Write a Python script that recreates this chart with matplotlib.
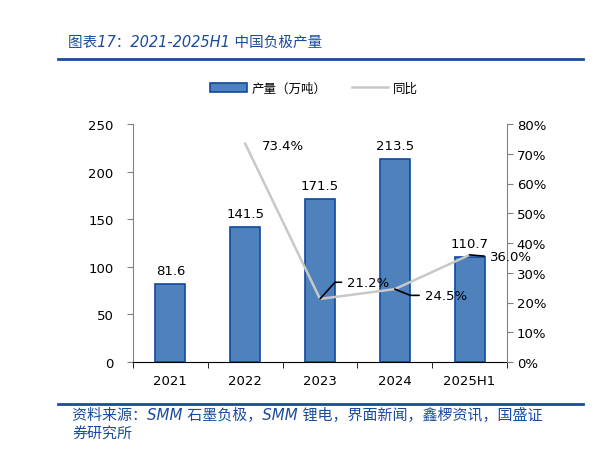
import matplotlib.pyplot as plt
from matplotlib.lines import Line2D
from matplotlib.patches import Patch

plt.rcParams['font.family'] = ['DejaVu Sans', 'Noto Sans CJK SC']

years = ['2021', '2022', '2023', '2024', '2025H1']
output = [81.6, 141.5, 171.5, 213.5, 110.7]
yoy_years = ['2022', '2023', '2024', '2025H1']
yoy = [73.4, 21.2, 24.5, 36.0]

blue = '#1A4C9C'
cjk = ['Noto Sans CJK SC', 'DejaVu Sans']
lat_cjk = ['DejaVu Sans', 'Noto Sans CJK SC']

fig = plt.figure(figsize=(5.97, 4.52), dpi=100)
ax = fig.add_axes([133 / 597, 1 - 363 / 452, 374 / 597, 238 / 452])
ax2 = ax.twinx()

x = list(range(len(years)))
ax.bar(x, output, width=0.4, color='#4F81BD', edgecolor='#1049A0', linewidth=1.2, zorder=2)
for xi, v in zip(x, output):
    ax.annotate(f'{v:.1f}', (xi, v), xytext=(0, 5), textcoords='offset points',
                ha='center', va='bottom', fontsize=9.5)

ax.set_xlim(-0.5, len(years) - 0.5)
ax.set_ylim(0, 250)
ax.set_yticks(range(0, 251, 50))
ax.set_xticks(x)
ax.set_xticklabels(years)
ax.set_xticks([i - 0.5 for i in range(len(years) + 1)], minor=True)
ax.tick_params(axis='x', which='major', length=0, pad=9, labelsize=9.5)
ax.tick_params(axis='x', which='minor', length=4, direction='out', color='black')
ax.tick_params(axis='y', length=4, direction='out', color='#808080', labelsize=9.5, pad=10)
for s in ['top', 'right']:
    ax.spines[s].set_visible(False)
ax.spines['left'].set_color('#808080')
ax.spines['bottom'].set_color('black')
ax.spines['bottom'].set_zorder(5)

xl = [years.index(y) for y in yoy_years]
ax2.plot(xl, yoy, color='#C8C8C8', linewidth=1.8, zorder=3)
ax2.set_ylim(0, 80)
ax2.set_yticks(range(0, 81, 10))
ax2.set_yticklabels([f'{t}%' for t in range(0, 81, 10)])
ax2.tick_params(axis='y', length=4, direction='out', color='#808080', labelsize=9.5, pad=3)
for s in ['top', 'left', 'bottom']:
    ax2.spines[s].set_visible(False)
ax2.spines['right'].set_color('#808080')

# percentage labels with leader lines
offsets = [(12, -1), (19.5, 12), (21.5, -4.5), (14.5, -1.2)]
conns = [None, 'angle,angleA=0,angleB=48,rad=0', 'angle,angleA=0,angleB=-22,rad=0', 'arc3']
for xi, v, off, cs in zip(xl, yoy, offsets, conns):
    kw = {}
    if cs is not None:
        kw['arrowprops'] = dict(arrowstyle='-', color='black', lw=1.2, shrinkA=2, shrinkB=0,
                                relpos=(0, 0.5), connectionstyle=cs)
    ax2.annotate(f'{v:.1f}%', (xi, v), xytext=off, textcoords='offset points',
                 ha='left', va='center', fontsize=9.5, zorder=6, **kw)

# legend
handles = [Patch(facecolor='#4F81BD', edgecolor='#1049A0', linewidth=1.2),
           Line2D([], [], color='#C8C8C8', linewidth=1.8)]
fig.legend(handles, ['产量（万吨）', '同比'], loc='center', bbox_to_anchor=(314 / 597, 1 - 89 / 452),
           ncol=2, frameon=False, prop={'family': cjk, 'size': 9}, handlelength=2.95,
           handleheight=0.75, columnspacing=2.0, handletextpad=0.4)

# title and rules
fig.text(68 / 597, 1 - 42 / 452, '图表17：2021-2025H1 中国负极产量', color=blue, fontsize=10.5,
         style='italic', family=lat_cjk, ha='left', va='center')
fig.add_artist(Line2D([58 / 597, 583 / 597], [1 - 60 / 452] * 2, color=blue, linewidth=2))
fig.add_artist(Line2D([58 / 597, 583 / 597], [1 - 405 / 452] * 2, color=blue, linewidth=2))
fig.text(72 / 597, 1 - 416 / 452, '资料来源：SMM 石墨负极，SMM 锂电，界面新闻，鑫椤资讯，国盛证', color=blue,
         fontsize=10.8, style='italic', family=lat_cjk, ha='left', va='center')
fig.text(72 / 597, 1 - 433 / 452, '券研究所', color=blue, fontsize=10.8, style='italic',
         family=lat_cjk, ha='left', va='center')

fig.savefig('out.png', dpi=100)
